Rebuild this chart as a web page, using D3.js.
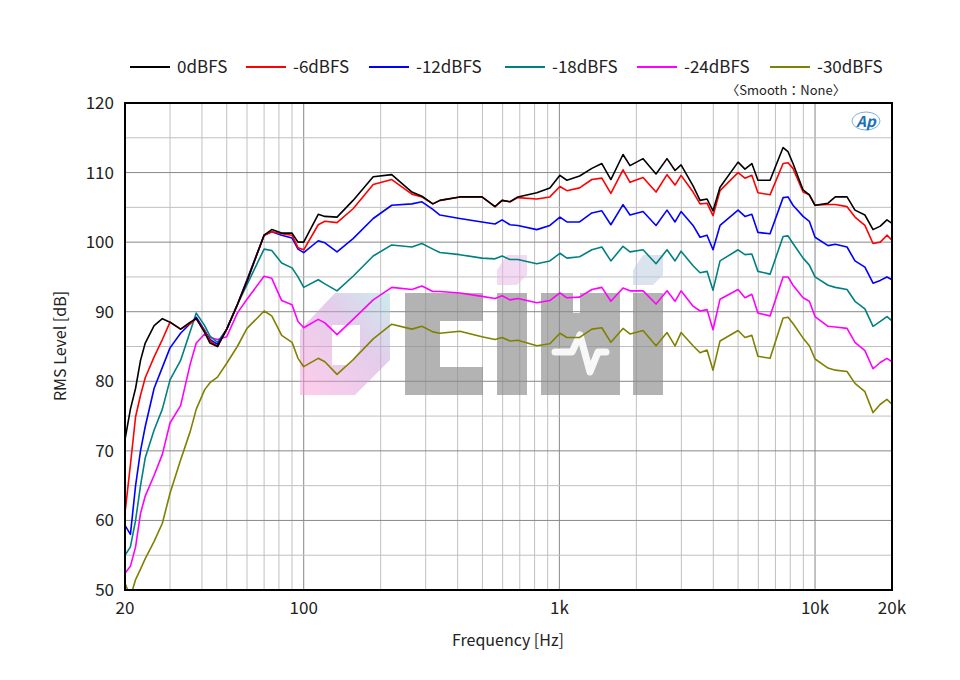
<!DOCTYPE html>
<html><head><meta charset="utf-8">
<script src="https://cdn.jsdelivr.net/npm/d3@7"></script>
<style>body{margin:0;background:#fff}svg{font-family:"Noto Sans CJK KR","Noto Sans",sans-serif}</style>
</head><body><svg id="chart" width="960" height="680"></svg>
<script>
var freqs = [20,21,22,23,24,26,28,30,33,36,38,41,43,46,50,55,60,70,75,82,90,95,100,114,121,135,156,187,221,265,290,320,341,408,498,560,597,641,688,816,918,1005,1070,1200,1340,1466,1590,1774,1889,2125,2388,2637,2834,2992,3334,3550,3780,3990,4250,5000,5320,5660,5980,6670,7500,7840,8200,8980,9500,10000,11240,12000,13340,14330,15670,16860,18000,19110,20000];

var seriesNames = ["0dBFS","-6dBFS","-12dBFS","-18dBFS","-24dBFS","-30dBFS"];
var seriesColors = ["#000000","#ff0000","#0000ff","#008080","#ff00ff","#808000"];

var s0 = [71.6,76,79,83,85.5,88,89,88.5,87.5,88.5, 89,87,85.5,85,87.5,91,94.4,101,101.8,101.3, 101.3,100,100,104,103.7,103.6,106,109.4,109.7,107.2, 106.6,105.5,106,106.5,106.5,105.1,106,105.8,106.5,107.1, 107.8,109.6,108.9,109.5,110.6,111.3,109,112.6,111,112, 109.8,112,110.3,111.1,108.1,106,106.2,104.5,107.9,111.5, 110.5,111.3,108.9,108.9,113.6,113,111.3,107.5,106.8,105.3, 105.6,106.5,106.5,104.6,103.9,101.8,102.3,103.2,102.7];
var s6 = [61.1,68,74.9,78,80.5,83.5,86,88.5,87.5,88.3, 89,87.2,85.8,85,87.5,91,94.4,101,101.5,101.2, 101,99.2,98.9,102.5,103,102.8,104.8,108.3,109,106.9, 106.5,105.5,106,106.5,106.5,105.1,106,105.8,106.4,106.2, 106.5,108,107.4,107.8,109,109.2,107,110.4,108.6,109.3, 107.2,109.7,108.2,109.6,107.2,105.5,105.6,103.8,107.4,110, 109.2,109.6,107.1,106.8,111.3,111.4,110.6,107.2,106.8,105.3, 105.4,105.4,105.1,103.6,102.4,99.8,100,101,100.3];
var s12 = [59.3,58,65,70,73.5,79,82,84.8,86.9,88.3, 89.2,87.3,86,85.3,87.5,91,94.6,101,101.5,101, 100.6,99,98.5,100.2,99.9,98.6,100.5,103.4,105.3,105.5, 105.8,104.7,103.9,103.4,102.9,102.6,103.2,102.5,102.4,101.8, 102.4,103.6,102.9,102.9,104.2,104.5,102.5,105.4,103.9,104.4, 102.4,104.6,102.9,104.4,102.4,100.7,101,98.9,102.4,104.6, 103.7,104,101.4,101.2,106.4,106.5,105.3,103.7,103,100.7, 99.5,99.7,99.3,97.3,96.4,94.1,94.5,95,94.6];
var s18 = [55,56.2,60,65,69,73,76,80.2,83,87.2, 89.8,88,86.5,85.6,87.5,91,93.9,99,98.8,97, 96.3,95,93.5,94.6,94,93,95.1,98,99.6,99.3, 99.8,99,98.5,98.2,97.7,97.6,98,97.5,97.5,96.9, 97.3,98.4,97.7,97.9,98.9,99.3,97.3,99.4,98.6,98.9, 96.9,98.9,97.3,98.7,96.6,95.6,95.8,93.1,97.3,98.9, 98.2,98.3,95.8,95.4,100.8,100.9,99.8,97.7,96.7,95, 93.8,93.5,93.2,91.5,90.4,87.9,88.6,89.3,88.7];
var s24 = [52.4,53.4,56.2,61,63.5,66.5,69.5,74,76.5,82.5, 85.5,86.8,86.3,86,86.4,89.8,91.8,95.1,94.8,91.6, 91,88.6,87.7,88.9,88.4,86.7,88.9,91.7,93.5,93.2, 93.7,92.9,92.9,92.7,92.2,91.9,92.3,91.7,91.9,91.3, 91.6,92.7,92,92.1,93.2,93.5,91.5,93.4,93,93, 91.1,93,91.5,93,90.8,90.1,90.3,87.4,91.8,93.2, 92,92.5,89.8,89.4,95,95,93.8,92,91.5,89.3, 87.9,87.8,87.6,85.6,84.4,81.8,82.7,83.3,82.8];
var s30 = [51,49,51.5,53,54.5,57,59.6,63.9,68.7,72.8, 76,78.8,79.8,80.6,82.6,85,87.6,90.1,89.4,86.6, 85.6,83.3,82.1,83.3,82.8,81,83.1,86.1,88.2,87.5, 87.9,87.1,86.9,87.2,86.4,86,86.3,85.8,85.9,85.1, 85.4,86.9,86.3,86.3,87.5,87.7,85.6,87.6,86.8,87.3, 85.1,87,85.1,87,85.1,84.1,84.5,81.6,85.8,87.3, 86.3,86.6,83.6,83.3,89.1,89.2,88.3,86.2,85.1,83.2, 81.9,81.6,81.4,79.7,78.5,75.5,76.7,77.4,76.7];
var seriesValues = [s0, s6, s12, s18, s24, s30];

var xTicks = [20,100,1000,10000,20000];
var xTickLabels = ["20","100","1k","10k","20k"];
var yTicks = [50,60,70,80,90,100,110,120];

var svg = d3.select("#chart");
var pLeft = 125, pRight = 892, pTop = 103, pBottom = 590;

var x = d3.scaleLog().domain([20,20000]).range([pLeft,pRight]);
var y = d3.scaleLinear().domain([50,120]).range([pBottom,pTop]);

// grid
var minor = [];
[10,100,1000,10000].forEach(function(d){
    for (var k=1;k<10;k++){ var f=d*k; if(f>20 && f<20000) minor.push(f); }
});
svg.append("g").selectAll("line").data(minor).enter().append("line")
    .attr("x1",d=>x(d)).attr("x2",d=>x(d)).attr("y1",pTop).attr("y2",pBottom)
    .attr("stroke",d=>([100,1000,10000].indexOf(d)>=0?"#888":"#c0c0c0")).attr("stroke-width",1);
var hgrid = d3.range(55,120,5);
svg.append("g").selectAll("line").data(hgrid).enter().append("line")
    .attr("x1",pLeft).attr("x2",pRight).attr("y1",d=>y(d)).attr("y2",d=>y(d))
    .attr("stroke",d=>(d%10===0?"#888":"#c0c0c0")).attr("stroke-width",1);

// watermark
var defs = svg.append("defs");
var gr = defs.append("linearGradient").attr("id","wg").attr("x1","0").attr("y1","1").attr("x2","1").attr("y2","0");
gr.append("stop").attr("offset","0").attr("stop-color","#ff9ad8");
gr.append("stop").attr("offset","0.6").attr("stop-color","#c99ad8");
gr.append("stop").attr("offset","1").attr("stop-color","#9ad8d8");
svg.append("path").attr("d","M300,330 L335,293 L390,293 L390,360 L355,395 L300,395 Z M332,325 L332,365 L348,365 L360,350 L360,325 Z")
    .attr("fill","url(#wg)").attr("fill-rule","evenodd").attr("opacity",0.5);
var gray = svg.append("g").attr("fill","#8c8c8c").attr("opacity",0.65);
gray.append("path").attr("d","M405,293 L483,293 L483,321 L440,321 L440,367 L483,367 L483,395 L405,395 Z");
gray.append("rect").attr("x",497).attr("y",293).attr("width",30).attr("height",102);
gray.append("path").attr("d","M541,293 L573,293 L573,313 L580,313 L580,293 L620,293 L620,395 L541,395 Z");
gray.append("rect").attr("x",633).attr("y",293).attr("width",30).attr("height",102);
svg.append("path").attr("d","M555,352 L572,352 L580,335 L590,372 L598,352 L606,352")
    .attr("fill","none").attr("stroke","#fff").attr("stroke-width",7).attr("stroke-linecap","round").attr("stroke-linejoin","round").attr("opacity",0.9);
svg.append("path").attr("d","M497,270 L507,255 L527,255 L527,275 L517,285 L497,285 Z").attr("fill","#e6b8e6").attr("opacity",0.5);
svg.append("path").attr("d","M633,270 L643,255 L663,255 L663,275 L653,285 L633,285 Z").attr("fill","#b8c8e0").attr("opacity",0.5);

// curves
svg.append("clipPath").attr("id","clip").append("rect").attr("x",pLeft).attr("y",pTop).attr("width",pRight-pLeft).attr("height",pBottom-pTop);
var line = d3.line().x((d,i)=>x(freqs[i])).y(d=>y(d));
var curves = svg.append("g").attr("clip-path","url(#clip)");
for (var i = seriesValues.length-1; i >= 0; i--) {
    curves.append("path").datum(seriesValues[i]).attr("d",line)
        .attr("fill","none").attr("stroke",seriesColors[i]).attr("stroke-width",1.6).attr("stroke-linejoin","round");
}

// frame
svg.append("rect").attr("x",pLeft).attr("y",pTop).attr("width",pRight-pLeft).attr("height",pBottom-pTop)
    .attr("fill","none").attr("stroke","#000").attr("stroke-width",2);

// axes labels
svg.append("g").selectAll("text").data(xTicks).enter().append("text")
    .attr("x",d=>x(d)).attr("y",614).attr("text-anchor","middle").attr("font-size",17).attr("fill","#222")
    .text((d,i)=>xTickLabels[i]);
svg.append("g").selectAll("text").data(yTicks).enter().append("text")
    .attr("x",114).attr("y",d=>y(d)+6).attr("text-anchor","end").attr("font-size",17).attr("fill","#222")
    .text(d=>d);
svg.append("text").attr("x",508).attr("y",646).attr("text-anchor","middle").attr("font-size",16).attr("fill","#222").text("Frequency [Hz]");
svg.append("text").attr("transform","translate(66,346) rotate(-90)").attr("text-anchor","middle").attr("font-size",16).attr("fill","#222").text("RMS Level [dB]");

// legend
var legX = [130,246,369,505,637,770];
var leg = svg.append("g").selectAll("g").data(seriesNames).enter().append("g");
leg.append("line").attr("x1",(d,i)=>legX[i]).attr("x2",(d,i)=>legX[i]+40).attr("y1",67).attr("y2",67)
    .attr("stroke",(d,i)=>seriesColors[i]).attr("stroke-width",2);
leg.append("text").attr("x",(d,i)=>legX[i]+47).attr("y",73).attr("font-size",17).attr("fill","#222").text(d=>d);
svg.append("text").attr("x",786).attr("y",95).attr("text-anchor","middle").attr("font-size",13).attr("fill","#222").text("〈Smooth：None〉");

// AP logo
svg.append("ellipse").attr("cx",866).attr("cy",121).attr("rx",14).attr("ry",9).attr("fill","none").attr("stroke","#7fb0d8").attr("stroke-width",1);
svg.append("text").attr("x",866).attr("y",127).attr("text-anchor","middle").attr("font-size",15).attr("font-style","italic").attr("font-weight","bold").attr("fill","#1a6fb5").text("Ap");
</script>
</body></html>
